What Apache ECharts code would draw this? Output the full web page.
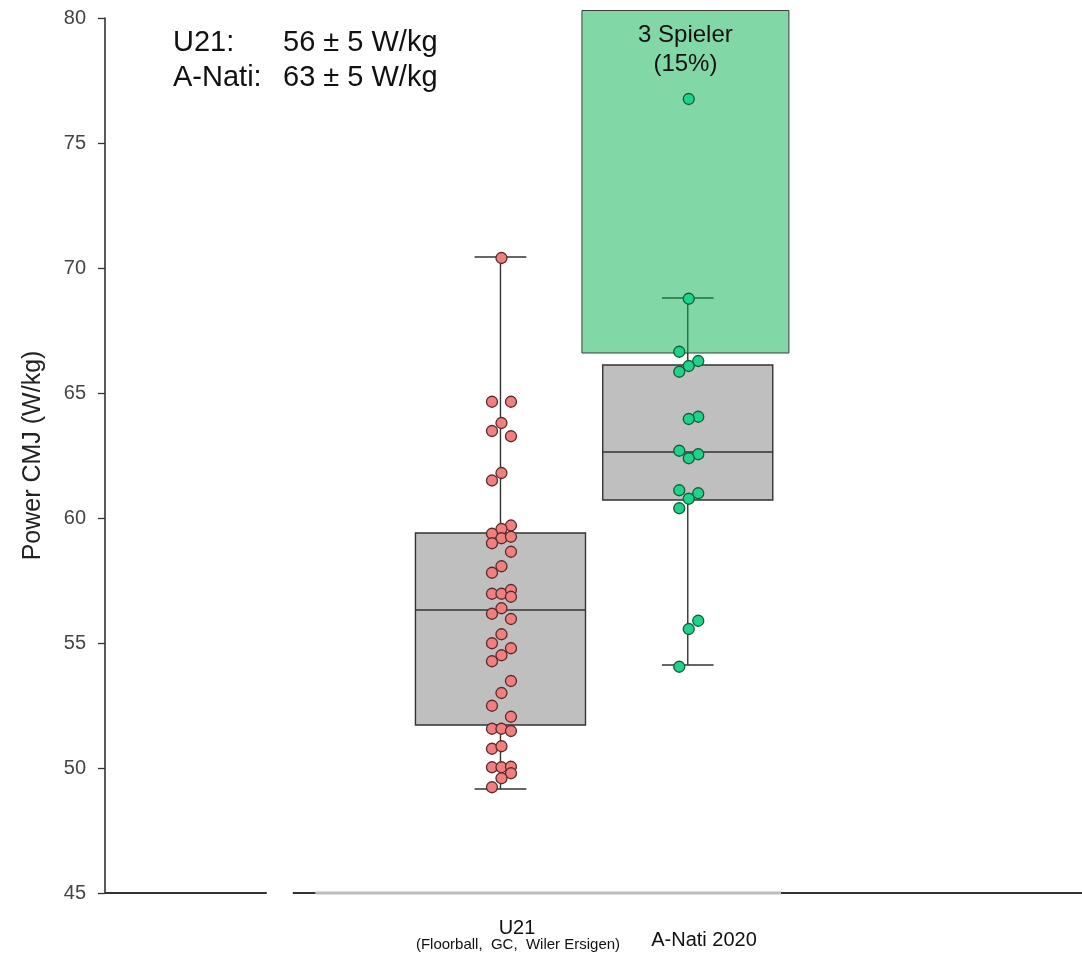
<!DOCTYPE html>
<html>
<head>
<meta charset="utf-8">
<script src="https://cdn.jsdelivr.net/npm/echarts@6/dist/echarts.min.js"></script>
<style>
  html, body { margin: 0; padding: 0; background: #ffffff; }
  #chart { width: 1082px; height: 962px; }
</style>
</head>
<body>
<div id="chart"></div>
<script>
// ---- data ----
const groups = ['U21', 'A-Nati 2020'];
const groupSubtitles = ['(Floorball,  GC,  Wiler Ersigen)', ''];
const groupPos = [1, 2];

// box statistics: [lower whisker, Q1, median, Q3, upper whisker]  (W/kg)
const u21Box = [49.16, 51.72, 56.32, 59.40, 70.44];
const anatiBox = [54.12, 60.72, 62.64, 66.12, 68.80];

// individual players (W/kg) and their dot-strip lane (-1, 0, 1)
const u21Values = [70.40, 64.65, 64.65, 63.80, 63.48, 63.27, 61.80, 61.50, 59.70, 59.56,
                   59.37, 59.19, 59.25, 58.99, 58.65, 58.07, 57.81, 56.97, 56.97, 57.12,
                   56.85, 56.39, 56.17, 55.96, 55.35, 54.99, 54.79, 54.51, 54.27, 53.48,
                   53.00, 52.49, 52.05, 51.57, 51.57, 51.48, 50.77, 50.87, 50.03, 50.03,
                   50.05, 49.79, 49.59, 49.23];
const u21Lanes  = [0, -1, 1, 0, -1, 1, 0, -1, 1, 0,
                   -1, 0, 1, -1, 1, 0, -1, -1, 0, 1,
                   1, 0, -1, 1, 0, -1, 1, 0, -1, 1,
                   0, -1, 1, -1, 0, 1, -1, 0, -1, 0,
                   1, 1, 0, -1];
const anatiValues = [76.76, 68.77, 66.65, 66.28, 66.08, 65.85, 64.05, 63.96, 62.69, 62.55,
                     62.39, 61.11, 60.99, 60.77, 60.39, 55.89, 55.56, 54.05];
const anatiLanes  = [0, 0, -1, 1, 0, -1, 1, 0, -1, 1,
                     0, -1, 1, 0, -1, 1, 0, -1];

// highlighted top band (W/kg) and its caption
const highlightRange = [66.6, 80.3];
const highlightText = ['3 Spieler', '(15%)'];

// summary (mean ± SD)
const summaryLabels = ['U21:', 'A-Nati:'];
const summaryValues = ['56 ± 5 W/kg', '63 ± 5 W/kg'];

// y axis
const yMin = 45, yMax = 80, yStep = 5;
const yTitle = 'Power CMJ (W/kg)';

// ---- layout constants ----
const FONT = '"Liberation Sans", Arial, Helvetica, sans-serif';
const X_MIN = -1.1116, X_MAX = 4.105;
const LANE_STEP = 0.0507, LANE_SHIFT = 0.0053;
const BOX_HALF = 0.454, CAP_HALF = 0.138;
const HL_LEFT = 1.435, HL_RIGHT = 2.540;

const laneX = (pos, lane) => pos + lane * LANE_STEP + LANE_SHIFT;
const u21Points = u21Values.map((v, i) => [laneX(groupPos[0], u21Lanes[i]), v]);
const anatiPoints = anatiValues.map((v, i) => [laneX(groupPos[1], anatiLanes[i]), v]);
const boxData = [[groupPos[0], ...u21Box], [groupPos[1], ...anatiBox]];

const LINE = { stroke: '#333333', lineWidth: 1.4, fill: null };

function renderBox(params, api) {
  const x = api.value(0);
  const lo = api.value(1), q1 = api.value(2), med = api.value(3), q3 = api.value(4), hi = api.value(5);
  const P = (dx, v) => api.coord([x + dx, v]);
  const seg = (a, b, style) => ({ type: 'line', shape: { x1: a[0], y1: a[1], x2: b[0], y2: b[1] }, style: style || LINE });
  const tl = P(-BOX_HALF, q3), br = P(BOX_HALF, q1);
  return {
    type: 'group',
    children: [
      seg(P(0, hi), P(0, q3)),
      seg(P(0, q1), P(0, lo)),
      seg(P(-CAP_HALF, hi), P(CAP_HALF, hi)),
      seg(P(-CAP_HALF, lo), P(CAP_HALF, lo)),
      { type: 'rect', shape: { x: tl[0], y: tl[1], width: br[0] - tl[0], height: br[1] - tl[1] },
        style: { fill: '#bfbfbf', stroke: '#333333', lineWidth: 1.4 } },
      seg(P(-BOX_HALF, med), P(BOX_HALF, med))
    ]
  };
}

function renderHighlight(params, api) {
  const lo = api.value(0), hi = api.value(1);
  const tl = api.coord([HL_LEFT, hi]), br = api.coord([HL_RIGHT, lo]);
  const cx = (tl[0] + br[0]) / 2;
  return {
    type: 'group',
    children: [
      { type: 'rect', shape: { x: tl[0], y: tl[1], width: br[0] - tl[0], height: br[1] - tl[1] },
        style: { fill: 'rgba(5,175,77,0.5)', stroke: '#3a3a3a', lineWidth: 1 } },
      { type: 'text', x: cx, y: tl[1] + 10,
        style: { text: highlightText.join('\n'), fontFamily: FONT, fontSize: 24, lineHeight: 29,
                 fill: '#111111', align: 'center', verticalAlign: 'top' } }
    ]
  };
}

// axis baseline drawn as separate strokes
const baselineParts = [
  { from: X_MIN, to: -0.248, color: '#333333', width: 2 },
  { from: -0.109, to: 0.0133, color: '#333333', width: 2 },
  { from: 0.0133, to: 2.4976, color: '#bdbdbd', width: 3 },
  { from: 2.4976, to: X_MAX, color: '#333333', width: 2 }
];
function renderBaseline(params, api) {
  const y = api.value(1);
  return {
    type: 'group',
    children: baselineParts.map(p => {
      const a = api.coord([p.from, y]), b = api.coord([p.to, y]);
      return { type: 'line', shape: { x1: a[0], y1: a[1], x2: b[0], y2: b[1] },
               style: { stroke: p.color, lineWidth: p.width } };
    })
  };
}

const chart = echarts.init(document.getElementById('chart'), null, { renderer: 'canvas' });

const graphics = [];
summaryLabels.forEach((t, i) => {
  graphics.push({ type: 'text', left: 173, top: 28 + i * 35,
    style: { text: t, fontFamily: FONT, fontSize: 29, fill: '#111111' } });
  graphics.push({ type: 'text', left: 283, top: 28 + i * 35,
    style: { text: summaryValues[i], fontFamily: FONT, fontSize: 29, fill: '#111111' } });
});
graphics.push({ type: 'text', x: 517, y: 928,
  style: { text: groups[0], fontFamily: FONT, fontSize: 20, fill: '#111111', align: 'center', verticalAlign: 'middle' } });
graphics.push({ type: 'text', x: 518, y: 945,
  style: { text: groupSubtitles[0], fontFamily: FONT, fontSize: 15, fill: '#111111', align: 'center', verticalAlign: 'middle' } });
graphics.push({ type: 'text', x: 704, y: 940,
  style: { text: groups[1], fontFamily: FONT, fontSize: 20, fill: '#111111', align: 'center', verticalAlign: 'middle' } });

chart.setOption({
  animation: false,
  backgroundColor: '#ffffff',
  textStyle: { fontFamily: FONT },
  grid: { left: 105, right: 0, top: 18, bottom: 69, containLabel: false, outerBoundsMode: 'none' },
  xAxis: { type: 'value', min: X_MIN, max: X_MAX, show: false },
  yAxis: {
    type: 'value', min: yMin, max: yMax, interval: yStep,
    name: yTitle, nameLocation: 'middle', nameGap: 59,
    nameTextStyle: { fontFamily: FONT, fontSize: 25, color: '#222222' },
    axisLine: { show: true, onZero: false, lineStyle: { color: '#333333', width: 1.6 } },
    axisTick: { show: true, length: 7, lineStyle: { color: '#333333', width: 1.3 } },
    axisLabel: { fontFamily: FONT, fontSize: 20, color: '#444444', margin: 19 },
    splitLine: { show: false }
  },
  graphic: graphics,
  series: [
    { type: 'custom', name: 'baseline', renderItem: renderBaseline, data: [[0, yMin]], z: 1, silent: true },
    { type: 'custom', name: 'box', renderItem: renderBox, data: boxData, z: 2, silent: true,
      encode: { x: 0, y: [1, 2, 3, 4, 5] } },
    { type: 'custom', name: 'band', renderItem: renderHighlight, data: [highlightRange], z: 3, silent: true,
      encode: { y: [0, 1] } },
    { type: 'scatter', name: groups[0], data: u21Points, symbolSize: 11, z: 4, silent: true,
      itemStyle: { color: '#f08080', borderColor: '#5a2a2a', borderWidth: 1.3, opacity: 1 } },
    { type: 'scatter', name: groups[1], data: anatiPoints, symbolSize: 11, z: 4, silent: true,
      itemStyle: { color: '#1fd38c', borderColor: '#155c36', borderWidth: 1.3, opacity: 1 } }
  ]
});
</script>
</body>
</html>
